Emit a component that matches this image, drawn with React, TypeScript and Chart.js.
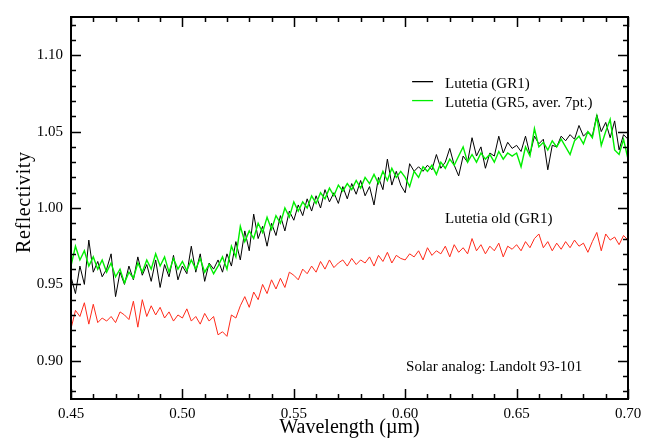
import React, { useEffect, useRef } from 'react';
import { Chart, registerables } from 'chart.js';

Chart.register(...registerables);

// Wavelength grid (µm)
const wavelength = [
  0.450, 0.452, 0.454, 0.456, 0.458, 0.460, 0.462, 0.464, 0.466, 0.468,
  0.470, 0.472, 0.474, 0.476, 0.478, 0.480, 0.482, 0.484, 0.486, 0.488,
  0.490, 0.492, 0.494, 0.496, 0.498, 0.500, 0.502, 0.504, 0.506, 0.508,
  0.510, 0.512, 0.514, 0.516, 0.518, 0.520, 0.522, 0.524, 0.526, 0.528,
  0.530, 0.532, 0.534, 0.536, 0.538, 0.540, 0.542, 0.544, 0.546, 0.548,
  0.550, 0.552, 0.554, 0.556, 0.558, 0.560, 0.562, 0.564, 0.566, 0.568,
  0.570, 0.572, 0.574, 0.576, 0.578, 0.580, 0.582, 0.584, 0.586, 0.588,
  0.590, 0.592, 0.594, 0.596, 0.598, 0.600, 0.602, 0.604, 0.606, 0.608,
  0.610, 0.612, 0.614, 0.616, 0.618, 0.620, 0.622, 0.624, 0.626, 0.628,
  0.630, 0.632, 0.634, 0.636, 0.638, 0.640, 0.642, 0.644, 0.646, 0.648,
  0.650, 0.652, 0.654, 0.656, 0.658, 0.660, 0.662, 0.664, 0.666, 0.668,
  0.670, 0.672, 0.674, 0.676, 0.678, 0.680, 0.682, 0.684, 0.686, 0.688,
  0.690, 0.692, 0.694, 0.696, 0.698, 0.700,
];

// Lutetia (GR1)
const lutetiaGR1 = [
  0.955, 0.944, 0.962, 0.950, 0.979, 0.958, 0.965, 0.955, 0.960, 0.970,
  0.942, 0.958, 0.950, 0.962, 0.953, 0.968, 0.956, 0.963, 0.952, 0.966,
  0.948, 0.963, 0.955, 0.969, 0.953, 0.962, 0.957, 0.975, 0.958, 0.970,
  0.952, 0.964, 0.960, 0.966, 0.958, 0.970, 0.962, 0.978, 0.966, 0.985,
  0.972, 0.996, 0.980, 0.988, 0.975, 0.990, 0.982, 0.995, 0.985, 0.998,
  0.992, 1.002, 0.995, 1.006, 0.998, 1.008, 1.000, 1.012, 1.004, 1.010,
  1.003, 1.014, 1.006, 1.016, 1.009, 1.018, 1.008, 1.014, 1.002, 1.020,
  1.012, 1.032, 1.015, 1.024, 1.015, 1.010, 1.029, 1.024, 1.027, 1.024,
  1.028, 1.025, 1.035, 1.026, 1.030, 1.039, 1.028, 1.021, 1.034, 1.030,
  1.046, 1.034, 1.040, 1.026, 1.036, 1.034, 1.047, 1.036, 1.043, 1.039,
  1.041, 1.037, 1.047, 1.035, 1.047, 1.042, 1.045, 1.025, 1.041, 1.040,
  1.047, 1.044, 1.048, 1.045, 1.054, 1.047, 1.050, 1.047, 1.061, 1.050,
  1.056, 1.046, 1.057, 1.038, 1.048, 1.045,
];

// Lutetia (GR5, aver. 7pt.)
const lutetiaGR5 = [
  0.962, 0.975, 0.966, 0.972, 0.962, 0.968, 0.960, 0.966, 0.958, 0.964,
  0.955, 0.960, 0.951, 0.958, 0.954, 0.964, 0.958, 0.966, 0.960, 0.970,
  0.962, 0.968, 0.958, 0.967, 0.960, 0.965, 0.959, 0.966, 0.960, 0.967,
  0.958, 0.963, 0.957, 0.962, 0.968, 0.960, 0.975, 0.968, 0.988, 0.978,
  0.985, 0.980, 0.990, 0.984, 0.994, 0.986, 0.995, 0.990, 1.000, 0.994,
  1.004, 0.998, 1.004, 1.000, 1.008, 1.003, 1.010, 1.006, 1.013, 1.008,
  1.015, 1.011, 1.016, 1.012, 1.018, 1.013, 1.020, 1.016, 1.022, 1.016,
  1.024, 1.018, 1.026, 1.020, 1.024, 1.020, 1.014, 1.024, 1.020, 1.027,
  1.024, 1.028, 1.022, 1.030, 1.026, 1.032, 1.028, 1.034, 1.040, 1.030,
  1.035, 1.030, 1.036, 1.032, 1.035, 1.030, 1.037, 1.032, 1.036, 1.034,
  1.036, 1.027, 1.040, 1.034, 1.052, 1.040, 1.043, 1.038, 1.044, 1.040,
  1.045, 1.040, 1.035, 1.044, 1.047, 1.042, 1.050, 1.046, 1.060, 1.041,
  1.050, 1.058, 1.038, 1.035, 1.045, 1.032,
];

// Lutetia old (GR1)
const lutetiaOld = [
  0.921, 0.933, 0.929, 0.938, 0.924, 0.937, 0.925, 0.928, 0.926, 0.929,
  0.925, 0.932, 0.930, 0.927, 0.939, 0.922, 0.940, 0.929, 0.936, 0.930,
  0.935, 0.928, 0.932, 0.926, 0.930, 0.928, 0.934, 0.926, 0.929, 0.924,
  0.931, 0.926, 0.929, 0.917, 0.919, 0.916, 0.930, 0.928, 0.936, 0.942,
  0.935, 0.945, 0.940, 0.950, 0.944, 0.953, 0.947, 0.954, 0.948, 0.958,
  0.956, 0.953, 0.960, 0.957, 0.962, 0.958, 0.965, 0.960, 0.966, 0.961,
  0.964, 0.966, 0.962, 0.967, 0.963, 0.966, 0.964, 0.968, 0.962, 0.969,
  0.965, 0.971, 0.964, 0.969, 0.967, 0.966, 0.970, 0.968, 0.972, 0.966,
  0.974, 0.969, 0.972, 0.970, 0.975, 0.968, 0.976, 0.971, 0.974, 0.970,
  0.980, 0.972, 0.976, 0.970, 0.975, 0.972, 0.977, 0.968, 0.975, 0.973,
  0.976, 0.972, 0.978, 0.974, 0.980, 0.983, 0.974, 0.978, 0.972, 0.977,
  0.973, 0.978, 0.974, 0.979, 0.975, 0.977, 0.971, 0.978, 0.984, 0.972,
  0.983, 0.979, 0.981, 0.976, 0.982, 0.979,
];

const xTickLabels = ['0.45', '0.50', '0.55', '0.60', '0.65', '0.70'];
const yTickLabels = ['0.90', '0.95', '1.00', '1.05', '1.10'];
const yAxisTitle = 'Reflectivity';

const SERIF = "'Liberation Serif', 'Times New Roman', serif";

const framePlugin = {
  id: 'frameTicks',
  afterDraw(chart: any) {
    const { ctx, chartArea, scales } = chart;
    const { left, right, top, bottom } = chartArea;
    const xs = scales.x;
    const ys = scales.y;
    ctx.save();
    ctx.strokeStyle = '#000';
    // ticks
    ctx.lineWidth = 1.5;
    ctx.beginPath();
    for (let k = 0; k <= 25; k++) {
      const v = 0.45 + k * 0.01;
      const px = Math.round(xs.getPixelForValue(v)) + 0.5;
      const len = k % 5 === 0 ? 10 : 5;
      ctx.moveTo(px, bottom);
      ctx.lineTo(px, bottom - len);
      ctx.moveTo(px, top);
      ctx.lineTo(px, top + len);
    }
    for (let k = 0; k <= 25; k++) {
      const v = 0.875 + k * 0.01 + 0.005;
      if (v > 1.125) break;
      const rounded = Math.round(v * 100);
      const py = Math.round(ys.getPixelForValue(rounded / 100)) + 0.5;
      const len = rounded % 5 === 0 ? 10 : 5;
      ctx.moveTo(left, py);
      ctx.lineTo(left + len, py);
      ctx.moveTo(right, py);
      ctx.lineTo(right - len, py);
    }
    ctx.stroke();
    // frame
    ctx.lineWidth = 2;
    ctx.strokeRect(left, top, right - left, bottom - top);

    // y axis title (slightly above centre, as in the reference)
    ctx.fillStyle = '#000';
    ctx.save();
    ctx.font = `20px ${SERIF}`;
    ctx.translate(30, ys.getPixelForValue(1.0038));
    ctx.rotate(-Math.PI / 2);
    ctx.textAlign = 'center';
    ctx.textBaseline = 'alphabetic';
    try { (ctx as any).letterSpacing = '0.6px'; } catch (e) {}
    ctx.fillText(yAxisTitle, 0, 0);
    ctx.restore();

    // legend + annotations
    ctx.font = `15px ${SERIF}`;
    ctx.textBaseline = 'alphabetic';
    ctx.textAlign = 'left';
    const ds = chart.data.datasets;
    const legendRows = [
      { idx: 0, y: 1.0827 },
      { idx: 1, y: 1.0703 },
    ];
    for (const row of legendRows) {
      const py = ys.getPixelForValue(row.y);
      ctx.strokeStyle = ds[row.idx].borderColor;
      ctx.lineWidth = 1.3;
      ctx.beginPath();
      ctx.moveTo(xs.getPixelForValue(0.6031), py);
      ctx.lineTo(xs.getPixelForValue(0.6125), py);
      ctx.stroke();
      ctx.fillText(ds[row.idx].label, xs.getPixelForValue(0.6179), py + 6);
    }
    ctx.fillText(ds[2].label, xs.getPixelForValue(0.6179), ys.getPixelForValue(0.9904));
    ctx.fillText('Solar analog: Landolt 93-101', xs.getPixelForValue(0.6004), ys.getPixelForValue(0.8936));
    ctx.restore();
  },
};

export default function App() {
  const ref = useRef<HTMLCanvasElement | null>(null);
  useEffect(() => {
    const canvas = ref.current;
    if (!canvas) return;
    const toPts = (arr: number[]) => wavelength.map((w, i) => ({ x: w, y: arr[i] }));
    const chart = new Chart(canvas, {
      type: 'line',
      data: {
        datasets: [
          {
            label: 'Lutetia (GR1)',
            data: toPts(lutetiaGR1),
            borderColor: '#000000',
            borderWidth: 1,
            pointRadius: 0,
            tension: 0,
            order: 1,
          },
          {
            label: 'Lutetia (GR5, aver. 7pt.)',
            data: toPts(lutetiaGR5),
            borderColor: '#00ee00',
            borderWidth: 1.4,
            pointRadius: 0,
            tension: 0,
            order: 0,
          },
          {
            label: 'Lutetia old (GR1)',
            data: toPts(lutetiaOld),
            borderColor: '#ff2a1a',
            borderWidth: 1,
            pointRadius: 0,
            tension: 0,
            order: 2,
          },
        ],
      },
      options: {
        animation: false,
        responsive: false,
        events: [],
        layout: { padding: { top: 9, right: 30, left: 0, bottom: 0 } },
        plugins: { legend: { display: false }, tooltip: { enabled: false } },
        scales: {
          x: {
            type: 'linear',
            min: 0.45,
            max: 0.7,
            grid: { display: false, drawTicks: false },
            border: { display: false },
            afterBuildTicks: (s: any) => {
              s.ticks = xTickLabels.map((t) => ({ value: Number(t) }));
            },
            afterFit: (s: any) => {
              s.height = 40;
            },
            ticks: {
              autoSkip: false,
              maxRotation: 0,
              padding: 6,
              color: '#000',
              font: { family: SERIF, size: 15 },
              callback: (v: any) => {
                const i = xTickLabels.findIndex((t) => Math.abs(Number(t) - v) < 1e-6);
                return i >= 0 ? xTickLabels[i] : '';
              },
            },
            title: {
              display: true,
              text: 'Wavelength (µm)',
              color: '#000',
              font: { family: SERIF, size: 20, lineHeight: 1.1 },
              padding: 0,
            },
          },
          y: {
            type: 'linear',
            min: 0.875,
            max: 1.125,
            grid: { display: false, drawTicks: false },
            border: { display: false },
            afterBuildTicks: (s: any) => {
              s.ticks = yTickLabels.map((t) => ({ value: Number(t) }));
            },
            afterFit: (s: any) => {
              s.width = 71;
            },
            ticks: {
              autoSkip: false,
              padding: 8,
              color: '#000',
              font: { family: SERIF, size: 15 },
              callback: (v: any) => {
                const i = yTickLabels.findIndex((t) => Math.abs(Number(t) - v) < 1e-6);
                return i >= 0 ? yTickLabels[i] : '';
              },
            },
            title: { display: false },
          },
        },
      },
      plugins: [framePlugin],
    });
    return () => chart.destroy();
  }, []);

  return (
    <div style={{ position: 'absolute', left: 0, top: 0, width: 658, height: 439, background: '#fff' }}>
      <canvas ref={ref} width={658} height={439} style={{ display: 'block', width: 658, height: 439 }} />
    </div>
  );
}
